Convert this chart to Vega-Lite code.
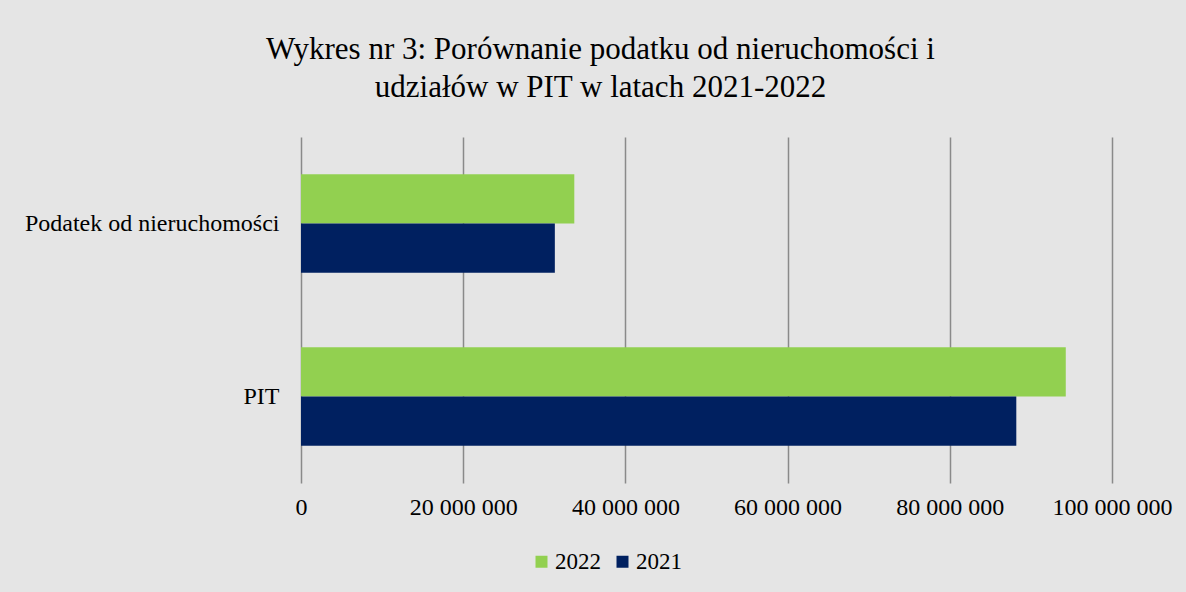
{
  "$schema": "https://vega.github.io/schema/vega-lite/v6.json",
  "width": 811,
  "height": 346,
  "autosize": "none",
  "padding": {"left": 301, "top": 137, "right": 74, "bottom": 109},
  "background": "#e5e5e5",
  "config": {
    "locale": {"number": {"decimal": ",", "thousands": " ", "grouping": [3], "currency": ["", " zł"]}},
    "view": {"stroke": null},
    "font": "Liberation Serif"
  },
  "title": {
    "text": ["Wykres nr 3: Porównanie podatku od nieruchomości i", "udziałów w PIT w latach 2021-2022"],
    "font": "Liberation Serif",
    "fontSize": 31,
    "fontWeight": "normal",
    "color": "#000000",
    "anchor": "middle",
    "dx": -106,
    "offset": 33,
    "lineHeight": 38
  },
  "data": {
    "values": [
      {"category": "Podatek od nieruchomości", "year": "2022", "value": 33700000},
      {"category": "Podatek od nieruchomości", "year": "2021", "value": 31300000},
      {"category": "PIT", "year": "2022", "value": 94300000},
      {"category": "PIT", "year": "2021", "value": 88200000}
    ]
  },
  "mark": {"type": "bar"},
  "encoding": {
    "y": {
      "field": "category",
      "type": "nominal",
      "sort": ["Podatek od nieruchomości", "PIT"],
      "scale": {"paddingInner": 0.43, "paddingOuter": 0.215},
      "axis": {"title": null, "labelFontSize": 24, "labelLimit": 400, "labelPadding": 22, "ticks": false, "domain": false, "labelColor": "#000000", "labelFont": "Liberation Serif"}
    },
    "x": {
      "field": "value",
      "type": "quantitative",
      "scale": {"domain": [0, 100000000], "nice": false},
      "axis": {
        "title": null,
        "values": [0, 20000000, 40000000, 60000000, 80000000, 100000000],
        "format": ",.0f",
        "grid": true,
        "gridColor": "#8a8a8a",
        "gridWidth": 1.5,
        "domain": false,
        "ticks": false,
        "labelFlush": false,
        "labelOverlap": false,
        "labelFontSize": 24,
        "labelPadding": 12,
        "labelColor": "#000000",
        "labelFont": "Liberation Serif"
      }
    },
    "yOffset": {
      "field": "year",
      "type": "nominal",
      "sort": ["2022", "2021"],
      "scale": {"paddingInner": 0, "paddingOuter": 0}
    },
    "color": {
      "field": "year",
      "type": "nominal",
      "scale": {"domain": ["2022", "2021"], "range": ["#92D050", "#002060"]},
      "legend": {
        "orient": "none",
        "legendX": 229,
        "legendY": 413,
        "direction": "horizontal",
        "title": null,
        "labelFontSize": 23,
        "labelFont": "Liberation Serif",
        "labelColor": "#000000",
        "symbolType": "square",
        "symbolSize": 144,
        "symbolStrokeWidth": 0,
        "symbolOpacity": 1,
        "labelOffset": 2,
        "columnPadding": 10
      }
    }
  }
}
